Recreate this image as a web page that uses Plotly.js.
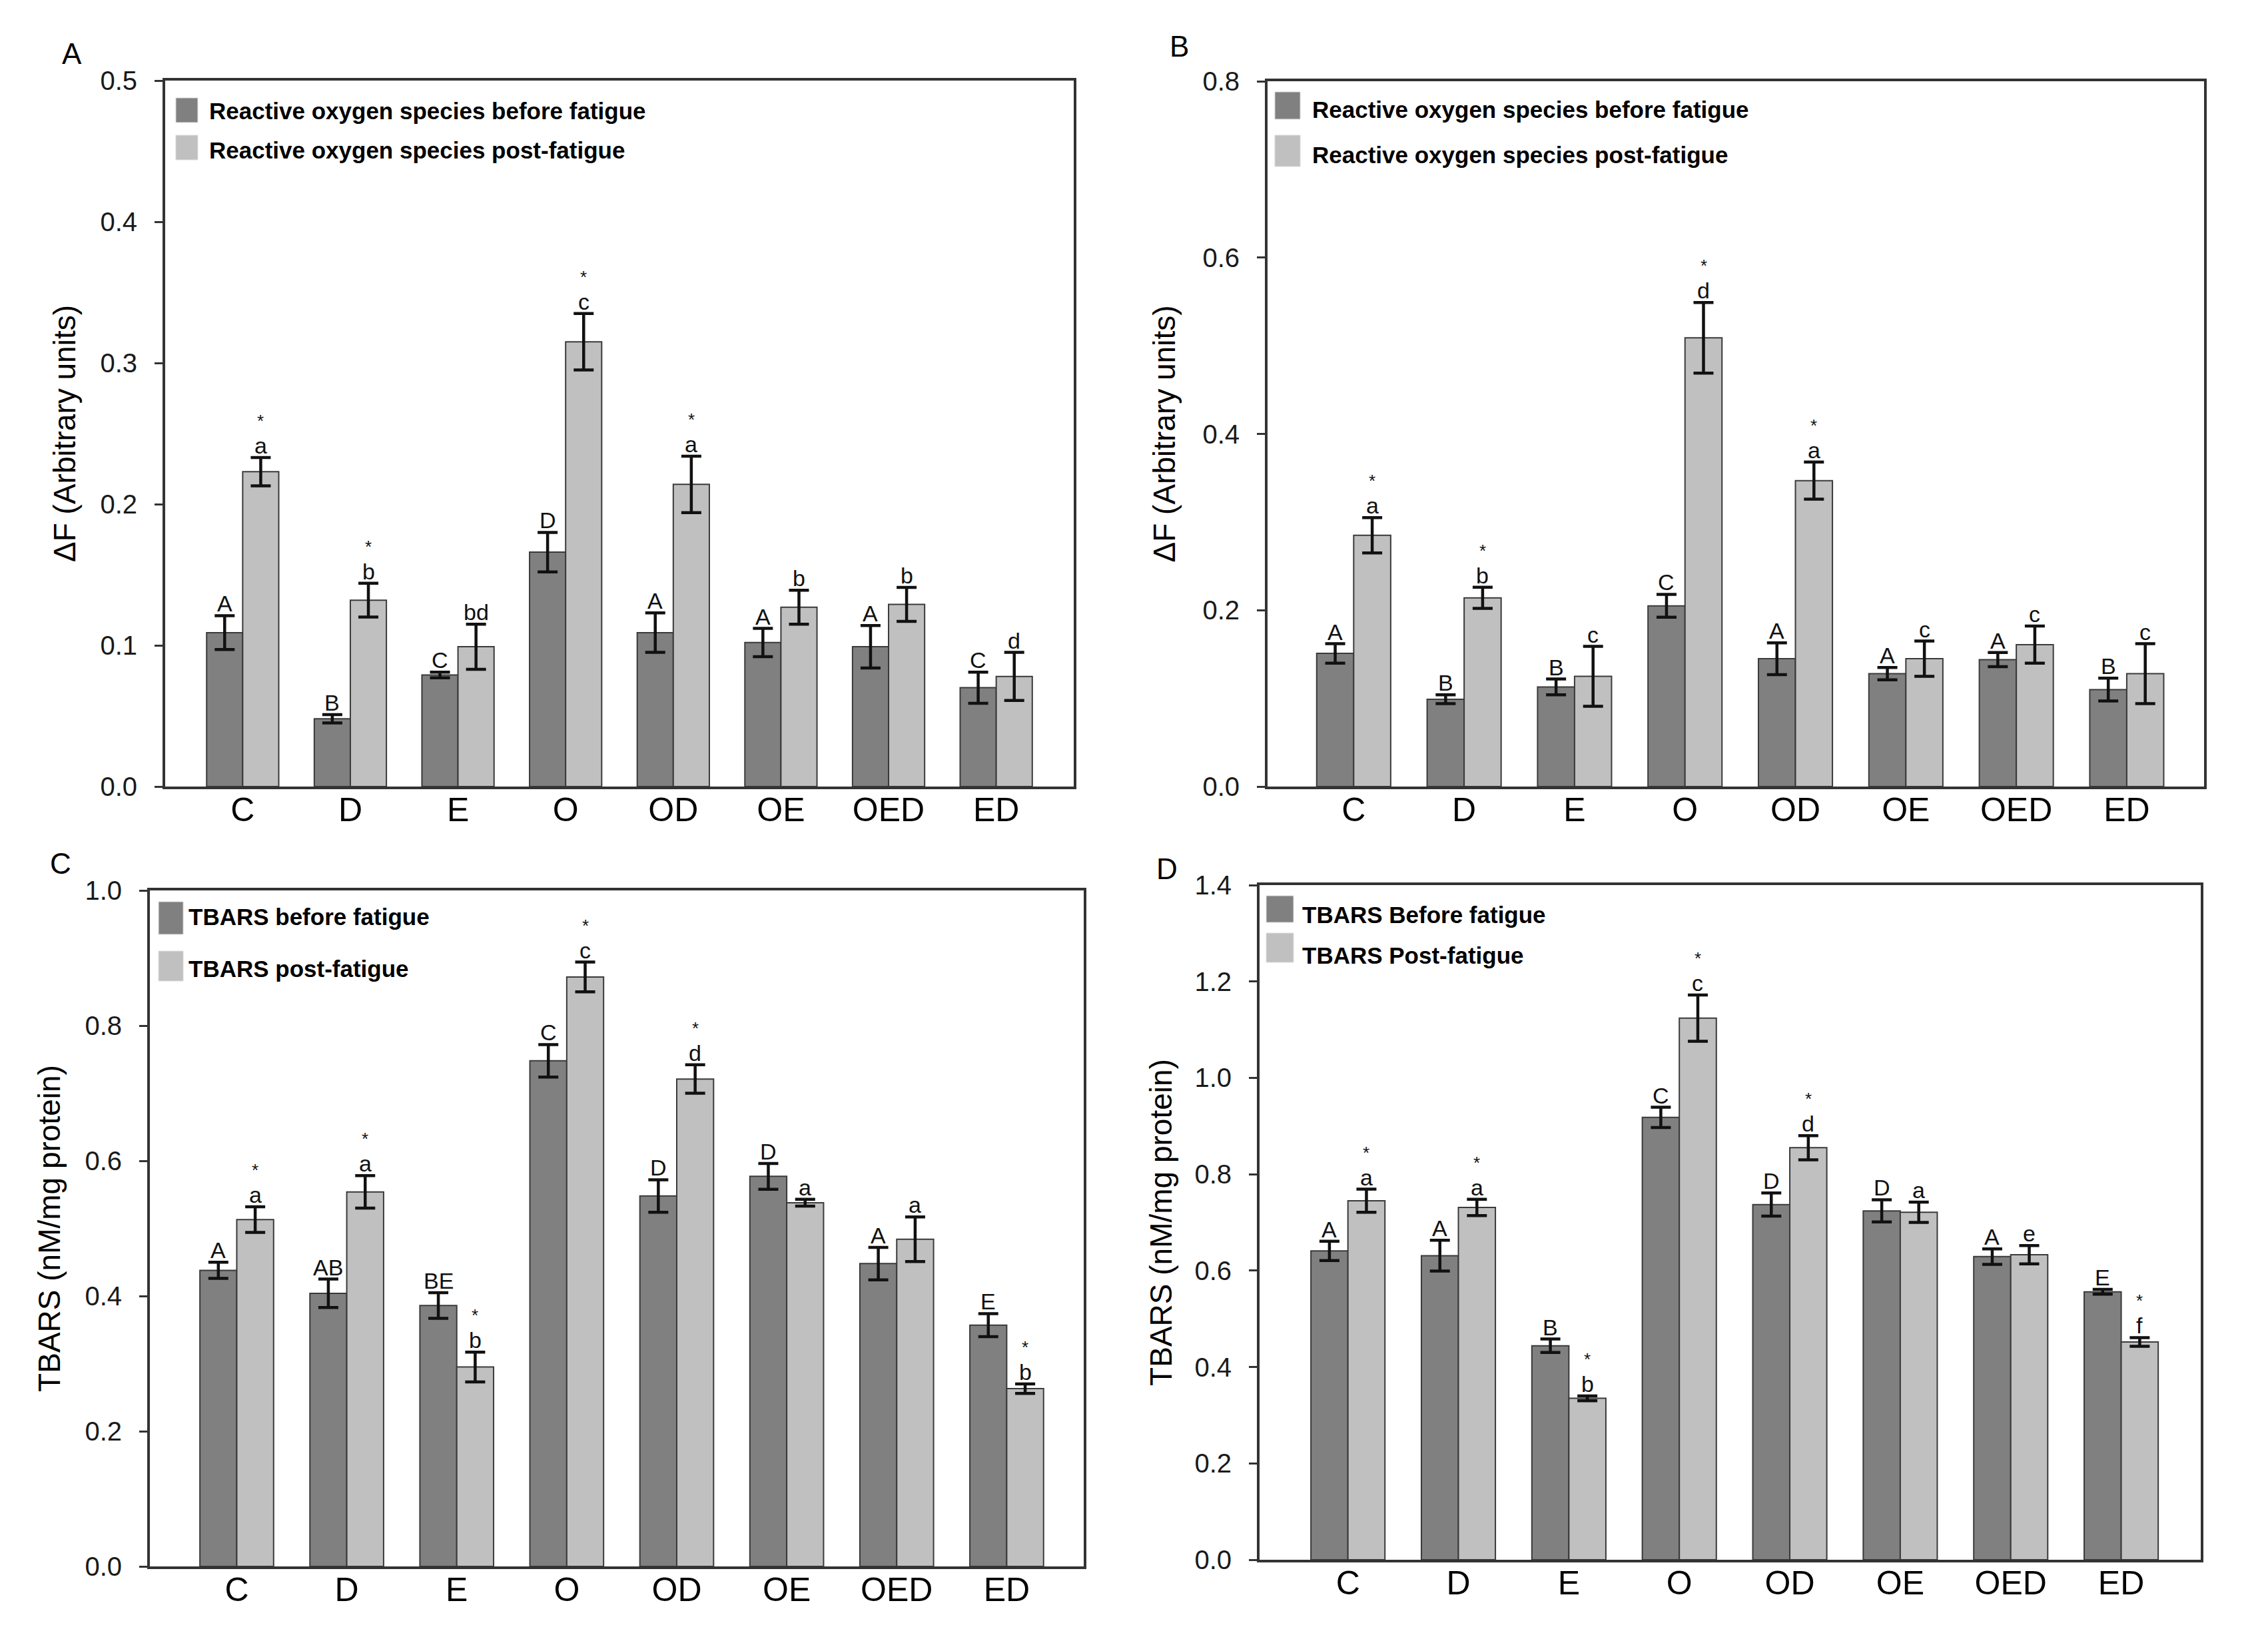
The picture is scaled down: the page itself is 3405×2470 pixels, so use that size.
<!DOCTYPE html>
<html>
<head>
<meta charset="utf-8">
<script src="https://cdn.plot.ly/plotly-3.0.1.min.js"></script>
<style>html,body{margin:0;padding:0;background:#fff}#chart{width:3405px;height:2470px}</style>
</head>
<body>
<div id="chart"></div>
<script>
// ---------- DATA ----------
const categories = ['C', 'D', 'E', 'O', 'OD', 'OE', 'OED', 'ED'];

// Panel A: ROS (ΔF)
const rosBeforeA    = [0.109, 0.048, 0.079, 0.166, 0.109, 0.102, 0.099, 0.070];
const rosBeforeErrA = [0.012, 0.003, 0.002, 0.014, 0.014, 0.010, 0.015, 0.011];
const rosPostA      = [0.223, 0.132, 0.099, 0.315, 0.214, 0.127, 0.129, 0.078];
const rosPostErrA   = [0.010, 0.012, 0.016, 0.020, 0.020, 0.012, 0.012, 0.017];
const lettersBeforeA = ['A', 'B', 'C', 'D', 'A', 'A', 'A', 'C'];
const lettersPostA   = ['a', 'b', 'bd', 'c', 'a', 'b', 'b', 'd'];
const starsPostA     = [true, true, false, true, true, false, false, false];

// Panel B: ROS (ΔF)
const rosBeforeB    = [0.151, 0.099, 0.113, 0.205, 0.145, 0.128, 0.144, 0.110];
const rosBeforeErrB = [0.011, 0.005, 0.009, 0.013, 0.018, 0.007, 0.008, 0.013];
const rosPostB      = [0.285, 0.214, 0.125, 0.509, 0.347, 0.145, 0.161, 0.128];
const rosPostErrB   = [0.020, 0.012, 0.034, 0.040, 0.021, 0.020, 0.021, 0.034];
const lettersBeforeB = ['A', 'B', 'B', 'C', 'A', 'A', 'A', 'B'];
const lettersPostB   = ['a', 'b', 'c', 'd', 'a', 'c', 'c', 'c'];
const starsPostB     = [true, true, false, true, true, false, false, false];

// Panel C: TBARS
const tbarsBeforeC    = [0.438, 0.404, 0.386, 0.748, 0.548, 0.577, 0.448, 0.357];
const tbarsBeforeErrC = [0.012, 0.021, 0.019, 0.024, 0.024, 0.019, 0.024, 0.017];
const tbarsPostC      = [0.513, 0.554, 0.295, 0.872, 0.721, 0.538, 0.484, 0.263];
const tbarsPostErrC   = [0.019, 0.024, 0.022, 0.022, 0.021, 0.005, 0.033, 0.007];
const lettersBeforeC = ['A', 'AB', 'BE', 'C', 'D', 'D', 'A', 'E'];
const lettersPostC   = ['a', 'a', 'b', 'c', 'd', 'a', 'a', 'b'];
const starsPostC     = [true, true, true, true, true, false, false, true];

// Panel D: TBARS
const tbarsBeforeD    = [0.641, 0.631, 0.444, 0.918, 0.737, 0.724, 0.629, 0.556];
const tbarsBeforeErrD = [0.020, 0.032, 0.014, 0.021, 0.024, 0.023, 0.016, 0.005];
const tbarsPostD      = [0.745, 0.731, 0.335, 1.124, 0.855, 0.721, 0.633, 0.452];
const tbarsPostErrD   = [0.024, 0.017, 0.005, 0.048, 0.025, 0.021, 0.019, 0.009];
const lettersBeforeD = ['A', 'A', 'B', 'C', 'D', 'D', 'A', 'E'];
const lettersPostD   = ['a', 'a', 'b', 'c', 'd', 'a', 'e', 'f'];
const starsPostD     = [true, true, true, true, true, false, false, true];

const seriesNamesAB = ['Reactive oxygen species before fatigue', 'Reactive oxygen species post-fatigue'];
const seriesNamesC  = ['TBARS before fatigue', 'TBARS post-fatigue'];
const seriesNamesD  = ['TBARS Before fatigue', 'TBARS Post-fatigue'];
const yTitleROS   = 'ΔF (Arbitrary units)';
const yTitleTBARS = 'TBARS (nM/mg protein)';
const panelLabels = ['A', 'B', 'C', 'D'];

// ---------- STYLE ----------
const W = 3405, H = 2470;
const SANS = '"Liberation Sans", Arial, sans-serif';
const DARK = '#808080', LIGHT = '#c0c0c0', OUTLINE = '#3a3a3a', AXIS = '#333333';
const BARGAP = 0.33;
const HALF = (1 - BARGAP) / 4; // offset of each bar centre from the category centre

const panels = [
  { ax: '', before: rosBeforeA, beforeErr: rosBeforeErrA, post: rosPostA, postErr: rosPostErrA,
    lb: lettersBeforeA, lp: lettersPostA, stars: starsPostA, names: seriesNamesAB, ytitle: yTitleROS,
    xdom: [248, 1612], ydom: [121, 1181], yrange: [0, 0.5], dtick: 0.1, xrange: [-0.72, 7.72], standoff: 23,
    legend: { sx: [0.0117, 0.0359], dark: [0.9406, 0.9755], light: [0.8877, 0.9226], tx: 0.047, ty: [0.9575, 0.9010] },
    label: [108, 81] },
  { ax: '2', before: rosBeforeB, beforeErr: rosBeforeErrB, post: rosPostB, postErr: rosPostErrB,
    lb: lettersBeforeB, lp: lettersPostB, stars: starsPostB, names: seriesNamesAB, ytitle: yTitleROS,
    xdom: [1903, 3309], ydom: [122, 1181], yrange: [0, 0.8], dtick: 0.2, xrange: [-0.78, 7.70], standoff: 27,
    legend: { sx: [0.0078, 0.0349], dark: [0.9462, 0.9849], light: [0.8791, 0.9235], tx: 0.0462, ty: [0.9594, 0.8952] },
    label: [1770, 69] },
  { ax: '3', before: tbarsBeforeC, beforeErr: tbarsBeforeErrC, post: tbarsPostC, postErr: tbarsPostErrC,
    lb: lettersBeforeC, lp: lettersPostC, stars: starsPostC, names: seriesNamesC, ytitle: yTitleTBARS,
    xdom: [225, 1627], ydom: [1337, 2352], yrange: [0, 1.0], dtick: 0.2, xrange: [-0.79, 7.70], standoff: 23,
    legend: { sx: [0.0093, 0.0357], dark: [0.935, 0.9833], light: [0.866, 0.9103], tx: 0.040, ty: [0.9606, 0.8847] },
    label: [91, 1296] },
  { ax: '4', before: tbarsBeforeD, beforeErr: tbarsBeforeErrD, post: tbarsPostD, postErr: tbarsPostErrD,
    lb: lettersBeforeD, lp: lettersPostD, stars: starsPostD, names: seriesNamesD, ytitle: yTitleTBARS,
    xdom: [1891, 3304], ydom: [1329, 2342], yrange: [0, 1.4], dtick: 0.2, xrange: [-0.80, 7.72], standoff: 20,
    legend: { sx: [0.0071, 0.0361], dark: [0.9447, 0.9842], light: [0.8855, 0.9289], tx: 0.0439, ty: [0.9556, 0.8963] },
    label: [1752, 1304] }
];

const traces = [];
const annotations = [];
const shapes = [];
const layout = {
  width: W, height: H,
  margin: { l: 0, r: 0, t: 0, b: 0, pad: 0, autoexpand: false },
  paper_bgcolor: '#ffffff', plot_bgcolor: '#ffffff',
  barmode: 'group', bargap: BARGAP, bargroupgap: 0,
  showlegend: false,
  font: { family: SANS, color: '#000' }
};

panels.forEach((p, k) => {
  const xa = 'x' + p.ax, ya = 'y' + p.ax;
  const xKey = 'xaxis' + p.ax, yKey = 'yaxis' + p.ax;
  const mk = (name, y, err, color) => ({
    type: 'bar', name: name, x: categories, y: y, xaxis: xa, yaxis: ya,
    marker: { color: color, line: { color: OUTLINE, width: 2 } },
    error_y: { type: 'data', array: err, visible: true, color: '#111111', thickness: 4.5, width: 15 },
    showlegend: false
  });
  traces.push(mk(p.names[0], p.before, p.beforeErr, DARK));
  traces.push(mk(p.names[1], p.post, p.postErr, LIGHT));

  layout[xKey] = {
    domain: [p.xdom[0] / W, p.xdom[1] / W], anchor: ya, type: 'category',
    range: p.xrange, showline: true, mirror: true, linecolor: AXIS, linewidth: 4,
    ticks: '', ticklen: 0, showgrid: false, zeroline: false, fixedrange: true,
    tickfont: { family: SANS, size: 50, color: '#000' }, ticklabelstandoff: -12
  };
  layout[yKey] = {
    domain: [1 - p.ydom[1] / H, 1 - p.ydom[0] / H], anchor: xa,
    range: p.yrange, dtick: p.dtick, tick0: 0, tickformat: '.1f',
    showline: true, mirror: true, linecolor: AXIS, linewidth: 4,
    ticks: 'outside', ticklen: 12, tickwidth: 3, tickcolor: AXIS,
    showgrid: false, zeroline: false, fixedrange: true,
    tickfont: { family: SANS, size: 40, color: '#1a1a1a' }, ticklabelstandoff: 18,
    automargin: 'left',
    title: { text: p.ytitle, font: { family: SANS, size: 46, color: '#000' }, standoff: p.standoff }
  };

  // significance letters (and asterisks) above the error bars
  categories.forEach((c, i) => {
    annotations.push({
      xref: xa, yref: ya, x: i - HALF, y: p.before[i] + p.beforeErr[i],
      text: p.lb[i], showarrow: false, xanchor: 'center', yanchor: 'bottom', yshift: -3,
      font: { family: SANS, size: 34, color: '#111' }
    });
    annotations.push({
      xref: xa, yref: ya, x: i + HALF, y: p.post[i] + p.postErr[i],
      text: p.lp[i], showarrow: false, xanchor: 'center', yanchor: 'bottom', yshift: -3,
      font: { family: SANS, size: 34, color: '#111' }
    });
    if (p.stars[i]) {
      annotations.push({
        xref: xa, yref: ya, x: i + HALF, y: p.post[i] + p.postErr[i],
        text: '*', showarrow: false, xanchor: 'center', yanchor: 'bottom', yshift: 38,
        font: { family: SANS, size: 26, color: '#111' }
      });
    }
  });

  // legend swatches and labels (inside the top-left of each panel)
  const L = p.legend;
  [[L.dark, DARK, 0], [L.light, LIGHT, 1]].forEach(([yy, col, j]) => {
    shapes.push({
      type: 'rect', xref: xa + ' domain', yref: ya + ' domain',
      x0: L.sx[0], x1: L.sx[1], y0: yy[0], y1: yy[1],
      fillcolor: col, line: { color: '#dddddd', width: 1 }
    });
    annotations.push({
      xref: xa + ' domain', yref: ya + ' domain', x: L.tx, y: L.ty[j],
      text: '<b>' + p.names[j] + '</b>', showarrow: false, xanchor: 'left', yanchor: 'middle',
      font: { family: SANS, size: 35, color: '#000' }
    });
  });

  // panel letter
  annotations.push({
    xref: 'paper', yref: 'paper', x: p.label[0] / W, y: 1 - p.label[1] / H,
    text: panelLabels[k], showarrow: false, xanchor: 'center', yanchor: 'middle',
    font: { family: SANS, size: 44, color: '#000' }
  });
});

layout.annotations = annotations;
layout.shapes = shapes;

Plotly.newPlot('chart', traces, layout, { displayModeBar: false, staticPlot: true });
</script>
</body>
</html>
